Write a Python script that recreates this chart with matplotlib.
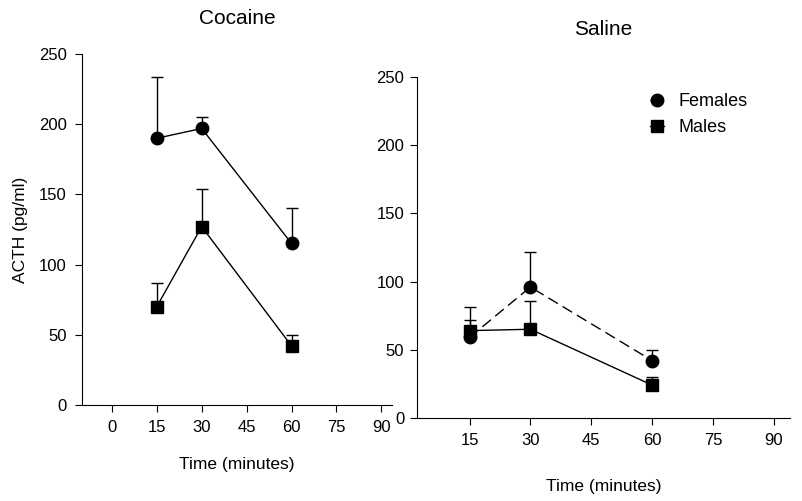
import matplotlib
matplotlib.use("Agg")
import matplotlib.pyplot as plt

plt.rcParams['font.family'] = ['Liberation Sans', 'DejaVu Sans']
plt.rcParams['font.size'] = 12.5

times = [15, 30, 60]
coc_f = [190, 197, 115]; coc_f_err = [44, 8, 25]
coc_m = [70, 127, 42];   coc_m_err = [17, 27, 8]
sal_f = [59, 96, 42];    sal_f_err = [13, 26, 8]
sal_m = [64, 65, 24];    sal_m_err = [17, 21, 6]

fig = plt.figure(figsize=(8.03, 5.01), dpi=100)
ax1 = fig.add_axes([0.102, 0.192, 0.386, 0.700])
ax2 = fig.add_axes([0.519, 0.166, 0.465, 0.680])

ax1.errorbar(times, coc_f, yerr=[[0]*3, coc_f_err], fmt='o-', color='black', ms=9, capsize=4, lw=1)
ax1.errorbar(times, coc_m, yerr=[[0]*3, coc_m_err], fmt='s-', color='black', ms=8, capsize=4, lw=1)
ef = ax2.errorbar(times, sal_f, yerr=[[0]*3, sal_f_err], fmt='o--', color='black', ms=9, capsize=4, lw=1, label='Females')
ef[0].set_dashes((8, 4))
ax2.errorbar(times, sal_m, yerr=[[0]*3, sal_m_err], fmt='s-', color='black', ms=8, capsize=4, lw=1, label='Males')

for ax, xt, lp in [(ax1, [0, 15, 30, 45, 60, 75, 90], 16), (ax2, [15, 30, 45, 60, 75, 90], 22)]:
    for s in ['top', 'right']:
        ax.spines[s].set_visible(False)
    ax.set_ylim(0, 250)
    ax.set_yticks([0, 50, 100, 150, 200, 250])
    ax.set_xticks(xt)
    ax.tick_params(direction='out', length=5, pad=6, labelsize=12)
    ax.set_xlabel('Time (minutes)', labelpad=lp)
ax2.tick_params(axis='y', pad=4)
ax1.set_xlim(-10, 93.5)
ax2.set_xlim(2, 94)
ax1.set_ylabel('ACTH (pg/ml)', labelpad=8)
ax1.set_title('Cocaine', pad=22)
ax2.set_title('Saline', pad=30)
h, l = ax2.get_legend_handles_labels()
h = [x[0] for x in h]
ax2.legend(h, l, frameon=False, loc='upper right', bbox_to_anchor=(0.93, 1.0), handlelength=0.8, fontsize=13)
fig.savefig('out.png', dpi=100)
